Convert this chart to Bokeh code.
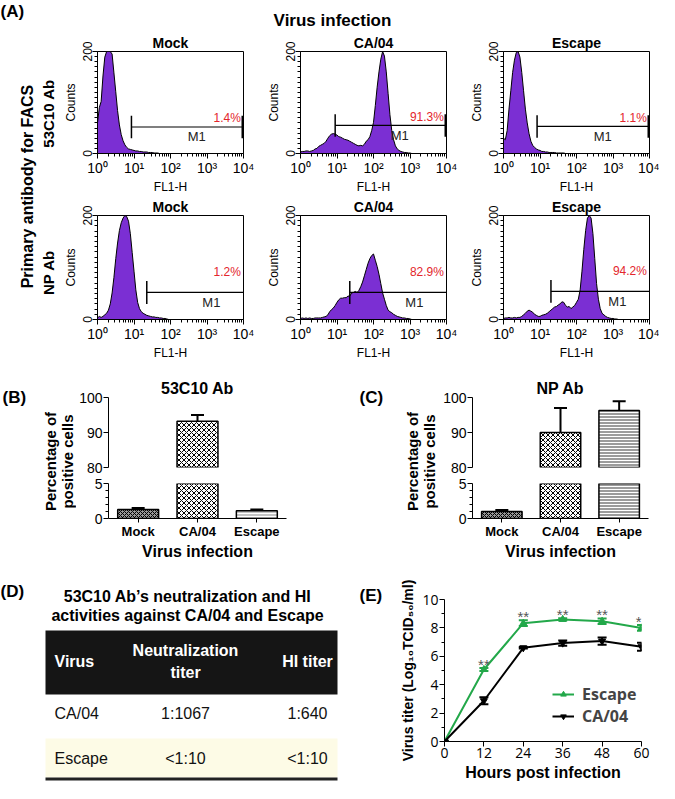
import numpy as np
from bokeh.plotting import figure
from bokeh.models import Range1d, FactorRange, FixedTicker, ColumnDataSource, CDSView, BooleanFilter
from bokeh.layouts import row, column
from bokeh.core.properties import value
from bokeh.embed import file_html
from bokeh.resources import INLINE

SANS = "Liberation Sans"
NARROW = "Liberation Sans Narrow, Liberation Sans, sans-serif"
OPEN = "Open Sans"
PURPLE = "#7b2fd3"
RED = "#e3262c"
GREEN = "#23a84a"

# ---------------- data ----------------
# Panel A: FACS histograms, counts per log10(FL1-H) channel (0.05 decade steps)
fl1_log = np.round(np.arange(0, 4.0001, 0.05), 2)

counts_53c10_mock = [
    60, 90, 102, 152, 189, 200, 200, 200, 195, 158,
    121, 84, 56, 37, 25, 17, 12, 9, 8, 7,
    6, 5, 5, 4, 4, 3, 3, 3, 2, 2,
    2, 1, 1, 1, 0, 0, 0, 0, 0, 0,
    0, 0, 0, 0, 0, 0, 0, 0, 0, 0,
    0, 0, 0, 0, 0, 0, 0, 0, 0, 0,
    0, 0, 0, 0, 0, 0, 0, 0, 0, 0,
    0, 0, 0, 0, 0, 0, 0, 0, 0, 0,
    0]
counts_53c10_ca04 = [
    3, 4, 4, 5, 5, 4, 5, 6, 9, 10,
    14, 16, 18, 20, 24, 30, 35, 38, 39, 38,
    36, 33, 32, 30, 28, 27, 26, 24, 22, 20,
    18, 16, 15, 16, 15, 18, 24, 27, 33, 45,
    61, 94, 130, 160, 185, 200, 191, 160, 118, 76,
    45, 27, 15, 9, 6, 4, 3, 2, 2, 1,
    1, 0, 0, 0, 0, 0, 0, 0, 0, 0,
    0, 0, 0, 0, 0, 0, 0, 0, 0, 0,
    0]
counts_53c10_escape = [
    30, 27, 45, 87, 123, 159, 183, 198, 200, 189,
    159, 123, 87, 60, 39, 24, 16, 12, 9, 7,
    6, 4, 4, 3, 3, 2, 2, 2, 2, 1,
    1, 1, 1, 1, 0, 0, 0, 0, 0, 0,
    0, 0, 0, 0, 0, 0, 0, 0, 0, 0,
    0, 0, 0, 0, 0, 0, 0, 0, 0, 0,
    0, 0, 0, 0, 0, 0, 0, 0, 0, 0,
    0, 0, 0, 0, 0, 0, 0, 0, 0, 0,
    0]
counts_np_mock = [
    3, 6, 4, 6, 9, 12, 18, 30, 51, 81,
    117, 147, 171, 186, 195, 200, 198, 189, 165, 129,
    93, 57, 33, 21, 15, 12, 10, 8, 7, 6,
    5, 5, 4, 4, 3, 3, 2, 2, 1, 0,
    0, 0, 0, 0, 0, 0, 0, 0, 0, 0,
    0, 0, 0, 0, 0, 0, 0, 0, 0, 0,
    0, 0, 0, 0, 0, 0, 0, 0, 0, 0,
    0, 0, 0, 0, 0, 0, 0, 0, 0, 0,
    0]
counts_np_ca04 = [
    2, 3, 2, 3, 2, 3, 2, 2, 3, 3,
    3, 3, 4, 5, 6, 9, 15, 19, 22, 27,
    33, 38, 41, 41, 42, 42, 45, 45, 51, 52,
    54, 52, 56, 63, 72, 84, 96, 108, 117, 123,
    126, 114, 102, 87, 69, 51, 39, 27, 18, 15,
    13, 10, 8, 6, 5, 4, 3, 3, 2, 2,
    1, 0, 0, 0, 0, 0, 0, 0, 0, 0,
    0, 0, 0, 0, 0, 0, 0, 0, 0, 0,
    0]
counts_np_escape = [
    2, 3, 3, 4, 3, 3, 4, 3, 4, 4,
    6, 9, 12, 16, 18, 16, 14, 10, 8, 6,
    6, 8, 9, 10, 12, 15, 18, 21, 24, 25,
    28, 30, 34, 33, 27, 24, 25, 21, 24, 27,
    33, 39, 57, 93, 135, 171, 195, 200, 195, 165,
    117, 69, 39, 21, 12, 9, 6, 4, 3, 2,
    2, 1, 1, 0, 0, 0, 0, 0, 0, 0,
    0, 0, 0, 0, 0, 0, 0, 0, 0, 0,
    0]

hist_titles = ["Mock", "CA/04", "Escape"]
gate_start_53c10 = [0.93, 0.95, 0.92]
gate_level_53c10 = [52, 55, 53]
gate_pct_53c10 = ["1.4%", "91.3%", "1.1%"]
gate_start_np = [1.35, 1.35, 1.30]
gate_level_np = [52, 52, 54]
gate_pct_np = ["1.2%", "82.9%", "94.2%"]
decade_labels = {0: "10⁰", 1: "10¹", 2: "10²", 3: "10³", 4: "10⁴"}

# Panels B, C: percentage of positive cells
bar_cats = ["Mock", "CA/04", "Escape"]
pos_53c10 = [1.3, 93.2, 1.1]
pos_53c10_err = [0.2, 1.8, 0.2]
pos_np = [1.0, 90.0, 96.3]
pos_np_err = [0.2, 7.0, 2.6]

# Panel D: table
tbl_header = ["Virus", "Neutralization\ntiter", "HI titer"]
tbl_virus = ["CA/04", "Escape"]
tbl_neut = ["1:1067", "<1:10"]
tbl_hi = ["1:640", "<1:10"]

# Panel E: growth curves
hours = [0, 12, 24, 36, 48, 60]
titer_escape = [0, 5.07, 8.33, 8.6, 8.47, 8.0]
titer_escape_err = [0, 0.1, 0.2, 0.08, 0.2, 0.2]
titer_ca04 = [0, 2.87, 6.6, 6.93, 7.07, 6.67]
titer_ca04_err = [0, 0.25, 0.05, 0.18, 0.25, 0.28]
sig_marks = ["", "**", "**", "**", "**", "*"]


# ---------------- helpers ----------------
def blank(w, h):
    p = figure(width=w, height=h, x_range=Range1d(0, w), y_range=Range1d(0, h),
               output_backend="svg", toolbar_location=None,
               x_axis_location=None, y_axis_location=None, min_border=0)
    p.grid.visible = False
    p.outline_line_color = None
    return p


def put(p, x, top, txt, size, bold=False, align="left", angle=0.0, color="black", font=SANS):
    h = p.y_range.end
    p.text(x=[x], y=[h - top], text=[txt], text_font=value(font), text_font_size=f"{size}px",
           text_font_style="bold" if bold else "normal", text_align=align,
           text_baseline="middle", angle=angle, text_color=color, text_line_height=1.35)


def style_axis(ax, size=13, font=SANS, bold=False):
    ax.axis_line_color = "black"
    ax.major_tick_line_color = "black"
    ax.minor_tick_line_color = "black"
    ax.major_tick_in = 0
    ax.minor_tick_in = 0
    ax.major_tick_out = 5
    ax.minor_tick_out = 3
    ax.major_label_text_font = font
    ax.major_label_text_font_size = f"{size}px"
    ax.major_label_text_font_style = "bold" if bold else "normal"
    ax.major_label_text_color = "black"
    ax.major_label_standoff = 1
    ax.axis_label_text_font_style = "normal"
    ax.axis_label_text_color = "black"
    ax.axis_label_standoff = 2


def style_title(p, size):
    p.title.align = "center"
    p.title.text_font = SANS
    p.title.text_font_size = f"{size}px"
    p.title.text_font_style = "bold"
    p.title.text_color = "black"
    p.title.standoff = 1


minor_log = [d + float(np.log10(k)) for d in range(4) for k in range(2, 10)]


def hist_fig(width, left, top, title, counts, g0, gy, pct, pct_dy, m1_x, end_tick):
    frame_w, frame_h, bottom = 146, 108, 39
    p = figure(width=width, height=top + frame_h + bottom, x_range=Range1d(0, 4),
               y_range=Range1d(0, 200), output_backend="svg", toolbar_location=None,
               title=title, min_border_left=left, min_border_right=width - left - frame_w,
               min_border_top=top, min_border_bottom=bottom)
    style_title(p, 14)
    p.grid.visible = False
    p.outline_line_color = "black"
    p.outline_line_width = 1
    p.varea(x=fl1_log, y1=0, y2=counts, fill_color=PURPLE)
    p.line(x=fl1_log, y=counts, line_color="black", line_width=1)
    p.segment(x0=[g0], y0=[gy], x1=[4], y1=[gy], line_color="black", line_width=1.2)
    p.segment(x0=[g0], y0=[gy - 22], x1=[g0], y1=[gy + 22], line_color="black", line_width=1.5)
    if end_tick:
        p.segment(x0=[4], y0=[gy - 22], x1=[4], y1=[gy + 22], line_color="black", line_width=4)
    p.text(x=[m1_x], y=[gy - 19], text=["M1"], text_font=value(SANS), text_font_size="13px",
           text_align="center", text_baseline="middle", text_color="#222222")
    p.text(x=[3.93], y=[gy + pct_dy], text=[pct], text_font=value(SANS), text_font_size="12px",
           text_align="right", text_baseline="middle", text_color=RED)
    xa, ya = p.xaxis[0], p.yaxis[0]
    style_axis(xa, 14)
    style_axis(ya, 12)
    xa.ticker = FixedTicker(ticks=[0, 1, 2, 3, 4], minor_ticks=minor_log)
    xa.major_label_overrides = decade_labels
    xa.axis_label = "FL1-H"
    xa.axis_label_text_font = SANS
    xa.axis_label_text_font_size = "12px"
    xa.axis_label_standoff = 1
    ya.ticker = FixedTicker(ticks=[0, 200], minor_ticks=list(range(10, 200, 10)))
    ya.major_label_orientation = "vertical"
    ya.axis_label = "Counts"
    ya.axis_label_text_font = SANS
    ya.axis_label_text_font_size = "12px"
    return p


def bar_panel(vals, errs, title, left, fw, right, fills, hatches, hcolors, hscales):
    w = left + fw + right
    rng = FactorRange(factors=bar_cats)
    src = ColumnDataSource(dict(x=bar_cats, top=vals,
                                up=[v + e for v, e in zip(vals, errs)],
                                fill=fills, hatch=hatches, hcol=hcolors, hsc=hscales))
    parts = []
    for lo, hi, ticks, minors, bt, fh, bb in [(80, 100, [80, 90, 100], [], 35, 70, 8),
                                              (0, 5, [0, 5], [1, 2, 3, 4], 8, 35, 47)]:
        upper = lo == 80
        kw = dict(title=title) if upper else {}
        p = figure(width=w, height=bt + fh + bb, x_range=rng, y_range=Range1d(lo, hi),
                   output_backend="svg", toolbar_location=None,
                   x_axis_location=None if upper else "below",
                   min_border_left=left, min_border_right=right,
                   min_border_top=bt, min_border_bottom=bb, **kw)
        p.grid.visible = False
        p.outline_line_color = None
        if upper:
            style_title(p, 16)
            p.title.standoff = 2
        view = CDSView(filter=BooleanFilter([v > lo for v in vals]))
        p.vbar(x="x", top="top", bottom=0, width=0.69, source=src, view=view, fill_color="fill",
               hatch_pattern="hatch", hatch_color="hcol", hatch_scale="hsc", hatch_weight=1,
               line_color="black", line_width=1.5)
        eview = CDSView(filter=BooleanFilter([v + e > lo and v < hi for v, e in zip(vals, errs)]))
        p.segment(x0="x", y0="top", x1="x", y1="up", source=src, view=eview,
                  line_color="black", line_width=2)
        p.scatter(x="x", y="up", source=src, view=eview, marker="dash", size=13,
                  line_color="black", line_width=2)
        ya = p.yaxis[0]
        style_axis(ya, 14)
        ya.ticker = FixedTicker(ticks=ticks, minor_ticks=minors)
        if not upper:
            xa = p.xaxis[0]
            style_axis(xa, 13, SANS, True)
            xa.major_tick_out = 4
            xa.axis_label = "Virus infection"
            xa.axis_label_text_font = SANS
            xa.axis_label_text_font_size = "16px"
            xa.axis_label_text_font_style = "bold"
            xa.axis_label_standoff = 1
        parts.append(p)
    return column(*parts)


# ---------------- panel A ----------------
a_left = blank(56, 362)
put(a_left, 0, 11, "(A)", 17, True)
put(a_left, 27, 186, "Primary antibody for FACS", 16, True, "center", np.pi / 2)
put(a_left, 48, 113, "53C10 Ab", 15, True, "center", np.pi / 2)
put(a_left, 48, 272, "NP Ab", 15, True, "center", np.pi / 2)

a_head = blank(603, 32)
put(a_head, 276, 20, "Virus infection", 17, True, "center")

row1_counts = [counts_53c10_mock, counts_53c10_ca04, counts_53c10_escape]
row2_counts = [counts_np_mock, counts_np_ca04, counts_np_escape]
lefts = [41, 43, 45]
row1 = [hist_fig(201, lefts[i], 17, hist_titles[i], row1_counts[i], gate_start_53c10[i],
                 gate_level_53c10[i], gate_pct_53c10[i], 17, 2.72, True) for i in range(3)]
row2 = [hist_fig(201, lefts[i], 19, hist_titles[i], row2_counts[i], gate_start_np[i],
                 gate_level_np[i], gate_pct_np[i], 40, 3.12, False) for i in range(3)]
panel_a = row(a_left, column(a_head, row(*row1), row(*row2)))

# ---------------- panels B, C ----------------
b_left = blank(76, 203)
put(b_left, 2, 35, "(B)", 17, True)
put(b_left, 50, 99, "Percentage of", 15, True, "center", np.pi / 2)
put(b_left, 67, 99, "positive cells", 15, True, "center", np.pi / 2)
b_bars = bar_panel(pos_53c10, pos_53c10_err, "53C10 Ab", 31, 179, 49,
                   ["#9a9a9a", "white", "#c4c4c4"], ["x", "x", "-"],
                   ["black", "black", "white"], [4, 5, 3])

c_left = blank(105, 203)
put(c_left, 24, 35, "(C)", 17, True)
put(c_left, 77, 99, "Percentage of", 15, True, "center", np.pi / 2)
put(c_left, 94, 99, "positive cells", 15, True, "center", np.pi / 2)
c_bars = bar_panel(pos_np, pos_np_err, "NP Ab", 30, 178, 11,
                   ["#9a9a9a", "white", "#9c9c9c"], ["x", "x", "-"],
                   ["black", "black", "white"], [4, 5, 3])
panel_bc = row(b_left, b_bars, c_left, c_bars)

# ---------------- panel D ----------------
d = blank(340, 218)
H = 218
put(d, 0, 26, "(D)", 17, True)
put(d, 187, 31, "53C10 Ab’s neutralization and HI", 16, True, "center")
put(d, 187, 50, "activities against CA/04 and Escape", 16, True, "center")
d.quad(left=[45], right=[337], top=[H - 65], bottom=[H - 129], fill_color="#151515", line_color=None)
d.quad(left=[45], right=[337], top=[H - 173], bottom=[H - 212], fill_color="#fdfbe6", line_color=None)
d.quad(left=[45], right=[337], top=[H - 212], bottom=[H - 215], fill_color="#222222", line_color=None)
col_x = [54, 185, 307]
col_align = ["left", "center", "center"]
for j, htxt in enumerate(tbl_header):
    put(d, col_x[j], 96, htxt, 16, True, col_align[j], color="white", font=NARROW)
for i, vname in enumerate(tbl_virus):
    ty = 148 + 45 * i
    for j, txt in enumerate([vname, tbl_neut[i], tbl_hi[i]]):
        put(d, col_x[j], ty, txt, 16, False, col_align[j], color="#111111")

# ---------------- panel E ----------------
e_left = blank(55, 218)
put(e_left, 19, 30, "(E)", 17, True)

pe = figure(width=264, height=218, x_range=Range1d(0, 60), y_range=Range1d(0, 10),
            output_backend="svg", toolbar_location=None,
            min_border_left=49, min_border_right=18, min_border_top=34, min_border_bottom=37)
pe.grid.visible = False
pe.outline_line_color = None
for vals, errs, col, mk, name in [(titer_escape, titer_escape_err, GREEN, "triangle", "Escape"),
                                  (titer_ca04, titer_ca04_err, "black", "inverted_triangle", "CA/04")]:
    lo = [v - e for v, e in zip(vals, errs)]
    hi = [v + e for v, e in zip(vals, errs)]
    pe.segment(x0=hours, y0=lo, x1=hours, y1=hi, line_color=col, line_width=2)
    pe.scatter(x=hours + hours, y=lo + hi, marker="dash", size=9, line_color=col, line_width=2)
    pe.line(hours, vals, line_color=col, line_width=2, legend_label=name)
    pe.scatter(hours, vals, marker=mk, size=7, fill_color=col, line_color=col, legend_label=name)
star_align = ["center"] * (len(hours) - 1) + ["right"]
star_dx = [0] * (len(hours) - 1) + [0]
pe.text(x=hours, y=[v + e for v, e in zip(titer_escape, titer_escape_err)], text=sig_marks,
        text_font=value(SANS), text_font_size="15px", text_align=star_align, x_offset=star_dx,
        text_baseline="alphabetic", y_offset=-4, text_color="#555555")
lg = pe.legend[0]
lg.location = (108, 14)
lg.label_text_font = OPEN
lg.label_text_font_style = "bold"
lg.label_text_font_size = "16px"
lg.glyph_width = 22
lg.glyph_height = 14
lg.label_height = 18
lg.label_standoff = 8
lg.spacing = 0
lg.padding = 0
lg.margin = 0
lg.border_line_color = None
lg.background_fill_alpha = 0
xa, ya = pe.xaxis[0], pe.yaxis[0]
style_axis(xa, 14, OPEN)
style_axis(ya, 14, OPEN)
xa.ticker = FixedTicker(ticks=[0, 12, 24, 36, 48, 60])
ya.ticker = FixedTicker(ticks=[0, 2, 4, 6, 8, 10], minor_ticks=[1, 3, 5, 7, 9])
xa.axis_label = "Hours post infection"
ya.axis_label = "Virus titer (Log₁₀TCID₅₀/ml)"
xa.axis_label_text_font_size = "16px"
ya.axis_label_text_font_size = "14px"
for ax in (xa, ya):
    ax.axis_label_text_font = NARROW
    ax.axis_label_text_font_style = "bold"
    ax.axis_label_standoff = 3

panel_de = row(column(d), column(e_left), column(pe))

layout = column(panel_a, panel_bc, panel_de)
open("out.html", "w").write(file_html(layout, INLINE))
